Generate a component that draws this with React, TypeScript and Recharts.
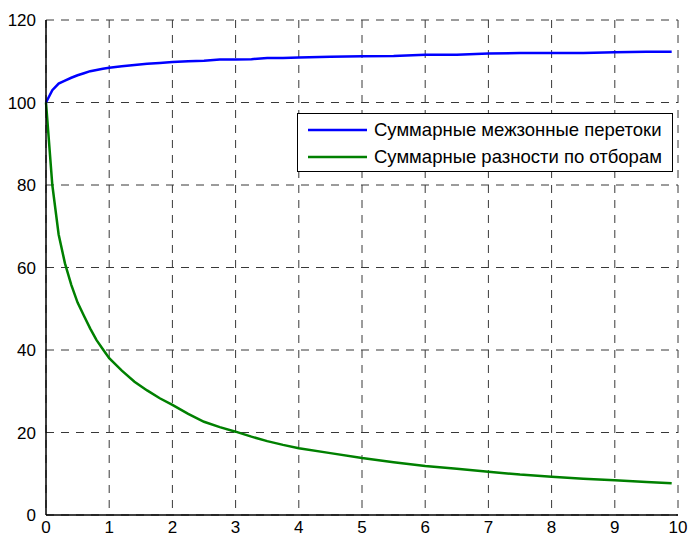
import React from "react";
import { LineChart, Line, XAxis, YAxis, CartesianGrid, Legend } from "recharts";

const xValues = [0, 0.1, 0.2, 0.3, 0.4, 0.5, 0.6, 0.7, 0.8, 0.9, 1.0, 1.2, 1.4, 1.6, 1.8, 2.0, 2.25, 2.5, 2.75, 3.0, 3.25, 3.5, 3.75, 4.0, 4.5, 5.0, 5.5, 6.0, 6.5, 7.0, 7.5, 8.0, 8.5, 9.0, 9.5, 9.9];
const flowValues = [100, 103, 104.6, 105.3, 106.0, 106.6, 107.1, 107.6, 107.9, 108.2, 108.4, 108.8, 109.1, 109.4, 109.6, 109.8, 110.0, 110.1, 110.4, 110.4, 110.5, 110.8, 110.8, 110.9, 111.1, 111.2, 111.3, 111.6, 111.6, 111.9, 112.0, 112.0, 112.0, 112.2, 112.3, 112.3];
const diffValues = [100, 80, 68, 61, 55.8, 51.5, 48.3, 45.2, 42.4, 40.2, 38, 35, 32.3, 30.2, 28.3, 26.7, 24.5, 22.6, 21.3, 20.2, 19, 17.9, 17, 16.2, 15.0, 13.8, 12.8, 11.9, 11.2, 10.5, 9.8, 9.3, 8.8, 8.4, 8.0, 7.7];
const xTicks = [0, 1, 2, 3, 4, 5, 6, 7, 8, 9, 10];
const yTicks = [0, 20, 40, 60, 80, 100, 120];
const seriesNames = ["Суммарные межзонные перетоки", "Суммарные разности по отборам"];
const seriesColors = ["#0000ff", "#008000"];

const data = xValues.map((x, i) => ({ x, flow: flowValues[i], diff: diffValues[i] }));

const font = "Arial, 'Liberation Sans', sans-serif";

const LegendBox = () => (
  <div
    style={{
      width: 374,
      height: 57,
      border: "1px solid #000",
      background: "#fff",
      fontFamily: font,
      fontSize: 18.5,
      color: "#000",
      boxSizing: "content-box",
    }}
  >
    {seriesNames.map((name, i) => (
      <div key={name} style={{ display: "flex", alignItems: "center", height: 27, marginTop: i === 0 ? 2 : 0 }}>
        <svg width={76} height={10} style={{ flex: "none" }}>
          <line x1={10} x2={69} y1={5} y2={5} stroke={seriesColors[i]} strokeWidth={2.5} />
        </svg>
        <span style={{ whiteSpace: "nowrap" }}>{name}</span>
      </div>
    ))}
  </div>
);

export default function App() {
  return (
    <div style={{ position: "absolute", left: 0, top: 0, width: 688, height: 536, background: "#fff" }}>
      <LineChart width={688} height={536} data={data} margin={{ top: 20, right: 10, bottom: 0, left: 0 }}>
        <CartesianGrid stroke="#383838" strokeDasharray="8 7" strokeWidth={1} />
        <XAxis
          dataKey="x"
          type="number"
          domain={[0, 10]}
          ticks={xTicks}
          interval={0}
          height={21}
          axisLine={{ stroke: "#000", strokeWidth: 1.5 }}
          tickLine={false}
          tick={{ fill: "#000", fontSize: 17, fontFamily: font }}
          tickMargin={0}
        />
        <XAxis xAxisId="top" orientation="top" dataKey="x" type="number" domain={[0, 10]} height={0} tick={false} tickLine={false} axisLine={{ stroke: "#000", strokeWidth: 1 }} />
        <YAxis
          type="number"
          domain={[0, 120]}
          ticks={yTicks}
          interval={0}
          width={46}
          axisLine={{ stroke: "#000", strokeWidth: 1.5 }}
          tickLine={false}
          tick={{ fill: "#000", fontSize: 17, fontFamily: font }}
          tickMargin={4}
        />
        <YAxis yAxisId="right" orientation="right" type="number" domain={[0, 120]} width={0} tick={false} tickLine={false} axisLine={{ stroke: "#000", strokeWidth: 1 }} />
        <Legend
          content={() => <LegendBox />}
          layout="horizontal"
          verticalAlign="middle"
          align="center"
          wrapperStyle={{ position: "absolute", left: 297, top: 113, width: 376 }}
        />
        <Line dataKey="flow" name={seriesNames[0]} stroke={seriesColors[0]} strokeWidth={2.5} dot={false} isAnimationActive={false} type="linear" />
        <Line dataKey="diff" name={seriesNames[1]} stroke={seriesColors[1]} strokeWidth={2.5} dot={false} isAnimationActive={false} type="linear" />
      </LineChart>
    </div>
  );
}
